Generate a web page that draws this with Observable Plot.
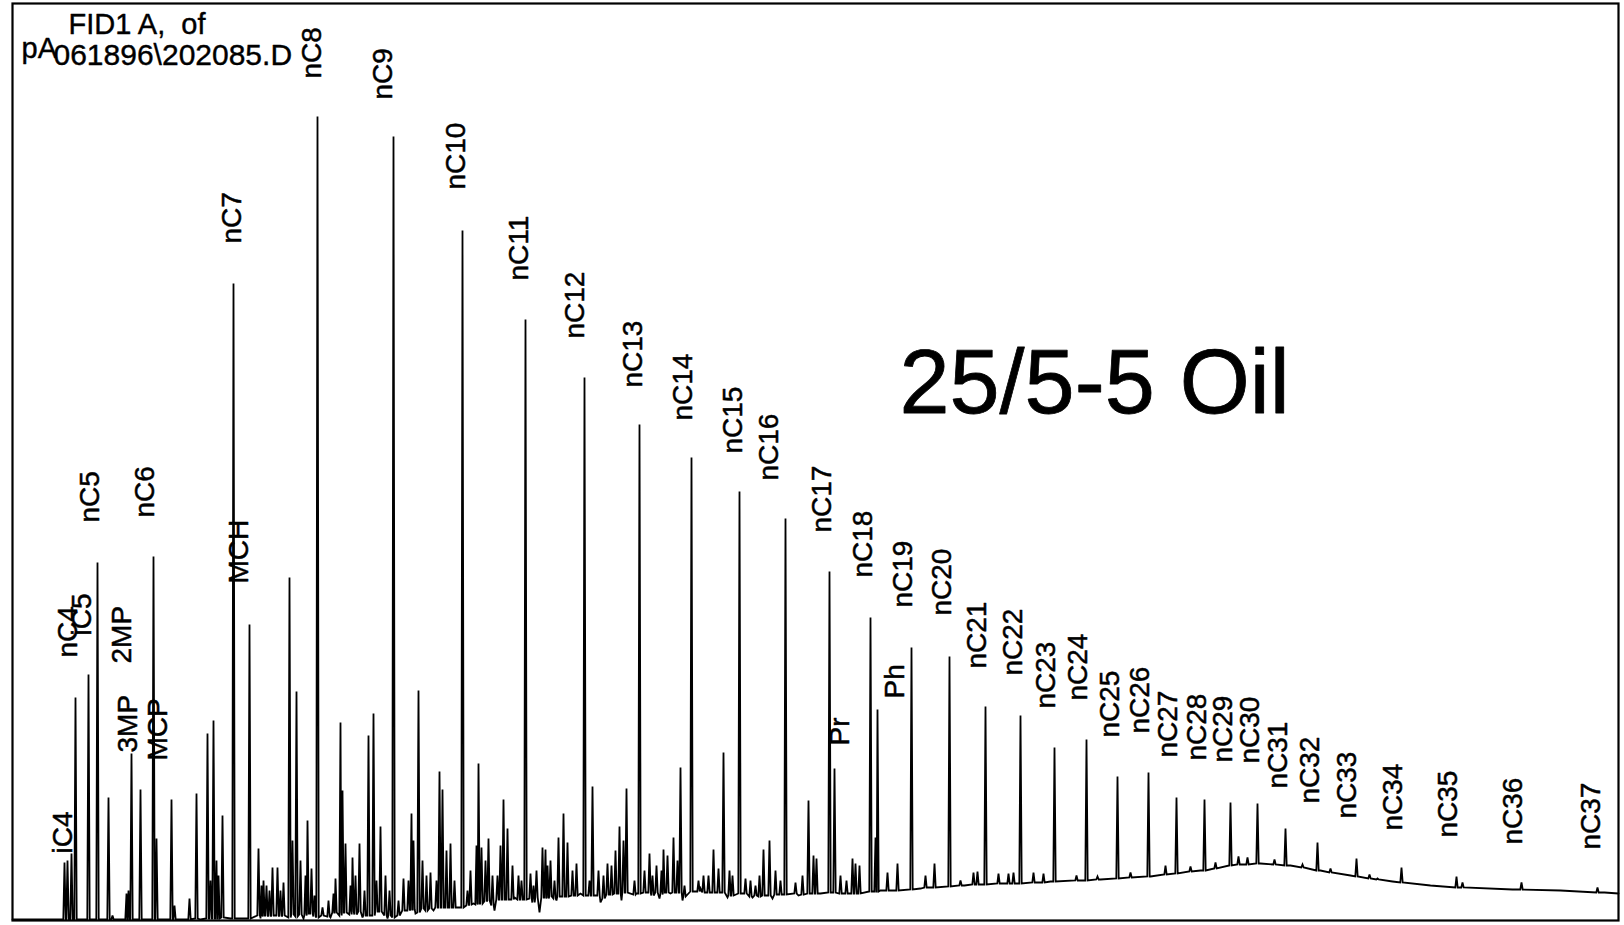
<!DOCTYPE html>
<html>
<head>
<meta charset="utf-8">
<script src="https://cdn.jsdelivr.net/npm/d3@7"></script>
<script src="https://cdn.jsdelivr.net/npm/@observablehq/plot@0.6"></script>
<style>
  html, body { margin: 0; padding: 0; background: #fff; overflow: hidden; }
  svg { display: block; }
</style>
</head>
<body>
<div id="chart"></div>
<script>
// Chromatogram (FID signal vs retention time).
// Resolved peaks: [retention time (min), apex signal, signal at the peak foot]
const peakTable = [
  [2.6,58,1],[2.75,60,1],[2.95,67,1],[3.15,223,1],[3.8,246,1],[4.25,358,1],[4.8,123,1],[5.0,5,1],[5.7,27,1],[5.8,30,1],
  [5.95,167,1],[6.4,131,1],[7.05,364,1],[7.2,82,1],[7.95,121,1],[8.1,15,1],[8.85,22,1],[9.2,127,2],[9.75,187,2],[9.9,40,2],
  [10.05,200,2],[10.2,60,2],[10.3,45,2],[10.5,105,3],[11.05,637,2],[11.85,296,2],[12.3,72,5],[12.55,40,5],[12.7,35,5],[13.0,53,5],
  [13.25,53,5],[13.55,38,5],[13.85,343,3],[14.0,80,6],[14.2,229,4],[14.4,60,6],[14.75,100,7],[14.95,52,7],[15.25,804,3],[15.5,13,5],
  [16.05,27,8],[16.15,42,8],[16.4,198,5],[16.5,130,8],[16.65,77,8],[17.0,63,9],[17.35,77,9],[17.8,185,5],[18.05,207,5],[18.2,40,9],
  [18.4,94,9],[19.05,784,3],[19.55,42,10],[19.8,40,10],[19.95,107,11],[20.05,80,11],[20.3,230,8],[20.5,60,12],[20.9,48,12],[21.2,40,13],
  [21.35,149,13],[21.5,131,13],[21.7,70,13],[21.9,77,13],[22.5,690,13],[22.9,50,16],[23.2,75,16],[23.3,157,17],[23.45,73,17],[23.65,60,19],
  [23.8,82,20],[24.25,45,21],[24.4,75,21],[24.55,121,21],[24.75,92,21],[25.0,55,21],[25.3,45,21],[25.65,601,21],[25.9,47,22],[26.2,50,23],
  [26.5,73,23],[26.65,71,23],[26.9,60,24],[27.3,83,24],[27.55,107,24],[27.75,78,24],[28.0,50,25],[28.2,57,25],[28.6,543,25],[29.0,134,25],
  [29.3,50,25],[29.75,57,26],[29.95,55,26],[30.15,70,27],[30.35,94,27],[30.55,80,28],[30.7,132,28],[31.35,496,27],[31.6,50,28],[31.85,67,28],
  [32.2,55,28],[32.55,71,28],[32.75,65,28],[33.05,83,28],[33.25,60,28],[33.4,153,28],[33.95,463,29],[34.55,45,28],[35.05,71,28],[35.3,52,28],
  [35.55,168,28],[36.35,429,27],[36.65,42,27],[37.15,35,25],[37.55,71,25],[37.85,80,25],[38.15,50,26],[38.65,402,26],[39.15,38,27],[39.8,120,27],
  [40.05,65,27],[40.2,62,27],[40.85,349,28],[41.1,152,28],[42.0,62,27],[42.15,57,27],[42.35,55,27],[42.9,303,29],[43.15,83,29],[43.25,211,29],
  [43.75,48,30],[44.25,57,30],[44.95,273,31],[45.65,45,33],[46.1,57,33],[46.85,264,34],[47.4,40,35],[48.05,48,36],[48.25,49,36],[48.65,214,36],
  [49.3,47,37],[49.8,47,37],[50.05,48,37],[50.4,205,37],[51.05,48,38],[51.55,47,38],[52.1,173,39],[53.2,45,40],[53.7,181,40],[54.25,44,41],
  [55.25,144,42],[55.9,48,43],[56.8,148,44],[57.65,55,46],[58.2,123,47],[58.9,54,49],[59.6,121,50],[60.15,58,52],[60.9,118,55],[61.3,64,56],
  [61.75,63,56],[62.25,117,57],[63.1,61,56],[63.65,92,55],[64.5,56,53],[65.25,78,50],[65.9,52,48],[67.2,62,44],[67.85,46,42],[68.25,42,41],
  [69.45,53,38],[72.2,44,33],[72.5,38,33],[75.45,38,31],[79.25,33,28]
];

// Small unresolved peaks of the "hump" between nC7 and nC18: [time, apex, foot]
const grassPeaks = [
  [12.45,35,4],[12.85,30,4],[13.4,30,4],[14.65,45,5],[15.1,25,4],[15.8,20,4],[16.9,35,6],[17.15,45,6],[17.6,30,5],[18.65,45,5],
  [18.85,30,5],[19.3,20,5],[20.7,45,10],[22.1,40,13],[22.75,30,15],[24.0,45,15],[25.45,40,21],[26.05,35,18],[26.75,55,22],[27.1,40,22],
  [28.85,40,25],[29.55,45,22],[31.1,40,26],[32.0,45,25],[32.45,50,26],[33.6,35,24],[34.3,40,29],[34.8,45,28],[35.85,50,25],[36.0,45,25],
  [36.9,40,24],[37.35,45,24],[38.4,40,26],[39.5,45,26],[41.4,45,27],[41.7,40,27]
];

// Baseline (signal between peaks, including its dips)
const baseTime  = [0, 2.4, 4.4, 9.4, 10.9, 12.4, 14.55, 15.9, 17.5, 18.75, 20.15, 21.05, 22.25, 23.05, 24.1, 25.1, 25.55, 26.35, 27.2, 28.4,
                   29.4, 30.45, 31.2, 32.35, 32.9, 33.5, 34.4, 35.75, 37.0, 38.0, 39.3, 40.4, 41.9, 43.4, 45.4, 47.6, 49.4, 51.9, 54.4, 56.9,
                   59.4, 61.4, 62.4, 63.9, 65.4, 66.9, 69.0, 70.9, 72.4, 75.0, 77.4, 79.6, 80.3];
const baseLevel = [1, 1, 1, 1, 2, 2, 2, 3, 3, 2, 7, 10, 13, 17, 10, 23, 21, 8, 20, 27,
                   18, 20, 27, 22, 27, 20, 32, 23, 23, 22, 25, 27, 27, 30, 32, 35, 37, 39, 41, 44,
                   50, 56, 57, 55, 50, 45, 39, 35, 33, 31, 30, 28, 27];

// Peak labels: name, retention time of the label, signal level where the label starts
const labelText  = ["iC4","nC4","iC5","nC5","2MP","3MP","nC6","MCP","MCH","nC7","nC8","nC9","nC10","nC11","nC12","nC13","nC14","nC15","nC16","nC17",
                    "Pr","nC18","Ph","nC19","nC20","nC21","nC22","nC23","nC24","nC25","nC26","nC27","nC28","nC29","nC30","nC31","nC32","nC33","nC34","nC35","nC36","nC37"];
const labelTime  = [2.55, 2.8, 3.5, 3.9, 5.5, 5.8, 6.65, 7.3, 11.35, 11.0, 15.0, 18.55, 22.2, 25.35, 28.15, 31.05, 33.55, 36.05, 37.85, 40.5,
                    41.4, 42.55, 44.15, 44.55, 46.5, 48.25, 50.05, 51.7, 53.3, 54.9, 56.4, 57.8, 59.25, 60.55, 61.9, 63.3, 64.9, 66.75, 69.05, 71.8, 75.05, 78.95];
const labelLevel = [67, 263, 285, 398, 257, 168, 403, 160, 337, 677, 842, 821, 731, 640, 582, 533, 500, 467, 440, 388,
                    175, 343, 222, 313, 305, 252, 245, 212, 220, 183, 187, 163, 160, 158, 157, 132, 117, 102, 90, 83, 76, 71];

const headerLine1 = "FID1 A,\u00a0 of";
const headerUnit  = "pA";
const headerFile  = "061896\\202085.D";
const sampleTitle = "25/5-5 Oil";

const font = "'Liberation Sans', Arial, Helvetica, sans-serif";
const peakHalfWidth = 0.06; // minutes, half width of a peak at its foot (drawing style)

// one continuous detector trace: baseline points plus the foot/apex/foot of each peak
const trace = baseTime.map((t, i) => ({t, s: baseLevel[i]}))
  .concat(peakTable.concat(grassPeaks).flatMap(([t, top, foot]) => [
    {t: t - peakHalfWidth, s: foot}, {t, s: top}, {t: t + peakHalfWidth, s: foot}
  ]))
  .sort((a, b) => a.t - b.t);

const labelIdx = labelText.map((d, i) => i);

const chart = Plot.plot({
  width: 1624,
  height: 925,
  marginLeft: 12,
  marginRight: 6,
  marginTop: 3,
  marginBottom: 5,
  style: {background: "#fff", fontFamily: font},
  x: {domain: [0, 80.3], axis: null},
  y: {domain: [0, 917], axis: null},
  marks: [
    Plot.lineY(trace, {x: "t", y: "s", stroke: "#000", strokeWidth: 1.8, curve: "linear", strokeLinejoin: "miter", strokeMiterlimit: 3}),
    Plot.text(labelIdx, {
      x: i => labelTime[i], y: i => labelLevel[i], text: i => labelText[i],
      rotate: -90, textAnchor: "start", lineAnchor: "middle",
      fontSize: 28, fontFamily: font, fill: "#000", stroke: "#000", strokeWidth: 0.5, ariaLabel: "peak-labels"
    }),
    Plot.text([headerLine1], {frameAnchor: "top-left", dx: 56, dy: 30, textAnchor: "start", lineAnchor: "bottom",
      fontSize: 29, fontFamily: font, fill: "#000", stroke: "#000", strokeWidth: 0.4, ariaLabel: "header"}),
    Plot.text([headerUnit], {frameAnchor: "top-left", dx: 9, dy: 54, textAnchor: "start", lineAnchor: "bottom",
      fontSize: 29, fontFamily: font, fill: "#000", stroke: "#000", strokeWidth: 0.4, ariaLabel: "header"}),
    Plot.text([headerFile], {frameAnchor: "top-left", dx: 41, dy: 61, textAnchor: "start", lineAnchor: "bottom",
      fontSize: 30, fontFamily: font, fill: "#000", stroke: "#000", strokeWidth: 0.4, ariaLabel: "header"}),
    Plot.text([sampleTitle], {frameAnchor: "top-left", dx: 887, dy: 409, textAnchor: "start", lineAnchor: "bottom",
      fontSize: 90, fontFamily: font, fill: "#000", stroke: "#000", strokeWidth: 0.8, ariaLabel: "sample-title"}),
    Plot.frame({stroke: "#000", strokeWidth: 2.2})
  ]
});

// the scanned lettering is a little flatter than the font: squash glyph height
chart.querySelectorAll('g[aria-label="peak-labels"] text, g[aria-label="header"] text').forEach(t => {
  const tr = t.getAttribute("transform");
  if (tr) t.setAttribute("transform", tr + " scale(1,0.85)");
});

document.getElementById("chart").appendChild(chart);
</script>
</body>
</html>
